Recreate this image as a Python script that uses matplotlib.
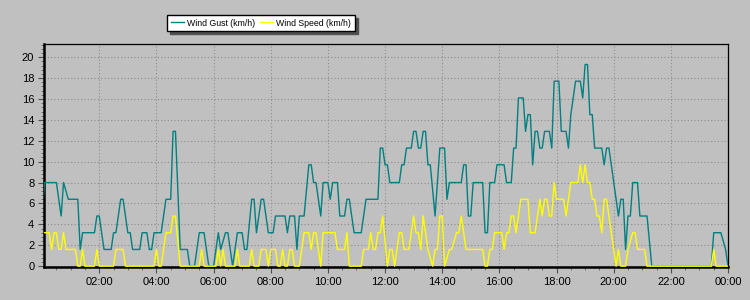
import matplotlib
matplotlib.use("Agg")
import matplotlib.pyplot as plt
from matplotlib import font_manager
from matplotlib.ticker import MultipleLocator, FixedLocator
from matplotlib.lines import Line2D

# ---- data (time in minutes since 00:00, values in km/h) ----
gust_time = [0, 5, 30, 40, 45, 55, 75, 80, 85, 110, 115, 120, 130, 145, 150, 155,
             165, 170, 180, 185, 190, 205, 210, 220, 225, 230, 235, 250, 260, 270,
             275, 280, 290, 305, 310, 320, 330, 340, 350, 360, 370, 375, 385, 390,
             400, 410, 420, 425, 430, 440, 445, 450, 460, 465, 475, 485, 490, 510,
             515, 520, 530, 535, 540, 550, 560, 565, 570, 575, 585, 590, 600, 605,
             610, 620, 625, 635, 640, 645, 655, 670, 680, 705, 710, 715, 720, 725,
             730, 750, 755, 760, 765, 775, 780, 785, 790, 795, 800, 805, 810, 815,
             825, 835, 845, 850, 855, 880, 885, 890, 895, 900, 905, 925, 930, 935,
             940, 950, 955, 970, 975, 985, 990, 995, 1000, 1010, 1015, 1020, 1025,
             1030, 1035, 1040, 1045, 1050, 1055, 1065, 1070, 1075, 1085, 1090, 1100,
             1105, 1110, 1120, 1130, 1135, 1140, 1145, 1150, 1155, 1160, 1175, 1180,
             1185, 1190, 1195, 1210, 1215, 1220, 1225, 1230, 1235, 1240, 1250, 1255,
             1270, 1280, 1405, 1410, 1425, 1435, 1440]
gust_kmh = [4.8, 8.0, 8.0, 4.8, 8.0, 6.4, 6.4, 1.6, 3.2, 3.2, 4.8, 4.8, 1.6, 1.6, 3.2, 3.2,
            6.4, 6.4, 3.2, 3.2, 1.6, 1.6, 3.2, 3.2, 1.6, 1.6, 3.2, 3.2, 6.4, 6.4,
            12.9, 12.9, 1.6, 1.6, 0, 0, 3.2, 3.2, 0, 0, 3.2, 1.6, 3.2, 3.2,
            0, 3.2, 3.2, 1.6, 1.6, 6.4, 6.4, 3.2, 6.4, 6.4, 3.2, 3.2, 4.8, 4.8,
            3.2, 4.8, 4.8, 1.6, 4.8, 4.8, 9.7, 9.7, 8.0, 8.0, 4.8, 8.0, 8.0, 6.4,
            8.0, 8.0, 4.8, 4.8, 6.4, 6.4, 3.2, 3.2, 6.4, 6.4, 11.3, 11.3, 9.7, 9.7,
            8.0, 8.0, 9.7, 9.7, 11.3, 11.3, 12.9, 12.9, 11.3, 11.3, 12.9, 12.9, 9.7, 9.7,
            4.8, 11.3, 11.3, 6.4, 8.0, 8.0, 9.7, 9.7, 4.8, 4.8, 8.0, 8.0, 3.2, 3.2,
            8.0, 8.0, 9.7, 9.7, 8.0, 8.0, 11.3, 11.3, 16.1, 16.1, 12.9, 14.5, 14.5,
            9.7, 12.9, 12.9, 11.3, 11.3, 12.9, 12.9, 11.3, 17.7, 17.7, 12.9, 12.9,
            11.3, 14.5, 17.7, 17.7, 16.1, 19.3, 19.3, 14.5, 14.5, 11.3, 11.3, 9.7,
            11.3, 11.3, 9.7, 4.8, 6.4, 6.4, 1.6, 4.8, 4.8, 8.0, 8.0, 4.8,
            4.8, 0, 0, 3.2, 3.2, 1.6, 0]

speed_time = [0, 15, 20, 25, 30, 35, 40, 45, 50, 70, 75, 80, 85, 90, 110, 115, 120,
              150, 155, 170, 175, 235, 240, 245, 250, 260, 270, 275, 280, 290, 330,
              335, 340, 365, 370, 375, 380, 385, 405, 410, 415, 435, 440, 445, 455,
              460, 470, 475, 480, 490, 495, 500, 505, 510, 515, 520, 525, 530, 540,
              550, 560, 565, 570, 575, 585, 590, 615, 620, 635, 640, 645, 670, 675,
              685, 690, 695, 700, 705, 710, 715, 725, 730, 735, 740, 745, 750, 755,
              760, 770, 780, 785, 790, 795, 800, 805, 810, 820, 825, 830, 835, 840,
              845, 855, 860, 870, 875, 880, 885, 890, 925, 930, 935, 940, 945, 950,
              965, 970, 975, 980, 985, 990, 995, 1005, 1020, 1025, 1035, 1045, 1050,
              1055, 1060, 1065, 1070, 1075, 1080, 1095, 1100, 1105, 1110, 1125, 1130,
              1135, 1140, 1145, 1150, 1155, 1160, 1165, 1170, 1175, 1180, 1185, 1190,
              1195, 1200, 1205, 1210, 1215, 1225, 1230, 1240, 1245, 1250, 1265, 1270,
              1405, 1410, 1415, 1440]
speed_kmh = [3.2, 3.2, 1.6, 3.2, 3.2, 1.6, 1.6, 3.2, 1.6, 1.6, 0, 0, 1.6, 0, 0, 1.6, 0,
             0, 1.6, 1.6, 0, 0, 1.6, 0, 0, 3.2, 3.2, 4.8, 4.8, 0, 0,
             1.6, 0, 0, 1.6, 0, 1.6, 0, 0, 1.6, 0, 0, 1.6, 0, 0,
             1.6, 1.6, 0, 1.6, 1.6, 0, 0, 1.6, 0, 0, 1.6, 1.6, 0, 0,
             3.2, 3.2, 1.6, 3.2, 3.2, 0, 3.2, 3.2, 1.6, 1.6, 3.2, 0, 0, 1.6,
             1.6, 3.2, 1.6, 1.6, 3.2, 3.2, 4.8, 0, 1.6, 1.6, 0, 1.6, 3.2, 3.2,
             1.6, 1.6, 4.8, 3.2, 3.2, 1.6, 4.8, 3.2, 1.6, 0, 1.6, 1.6, 4.8, 4.8,
             0, 1.6, 1.6, 3.2, 3.2, 4.8, 3.2, 1.6, 1.6, 0, 0, 1.6, 1.6, 3.2,
             3.2, 1.6, 3.2, 3.2, 4.8, 4.8, 3.2, 6.4, 6.4, 3.2, 3.2, 6.4, 4.8,
             6.4, 6.4, 4.8, 4.8, 8.0, 6.4, 6.4, 4.8, 6.4, 8.0, 8.0, 9.7,
             8.0, 9.7, 8.0, 8.0, 6.4, 6.4, 4.8, 4.8, 3.2, 6.4, 6.4, 4.8,
             3.2, 1.6, 0, 1.6, 0, 0, 1.6, 3.2, 3.2, 1.6, 1.6, 0,
             0, 1.6, 0, 0]

x_tick_hours = [2, 4, 6, 8, 10, 12, 14, 16, 18, 20, 22, 24]
x_tick_labels = ["02:00", "04:00", "06:00", "08:00", "10:00", "12:00", "14:00",
                 "16:00", "18:00", "20:00", "22:00", "00:00"]
series_names = ["Wind Gust (km/h)", "Wind Speed (km/h)"]

BG = "#c0c0c0"
GUST_C = "#008080"
SPEED_C = "#ffff00"
FONT = ["Liberation Sans", "DejaVu Sans"]

installed = {f.name for f in font_manager.fontManager.ttflist}
if "Liberation Sans Narrow" in installed:
    LEG_FONT, LEG_SIZE = ["Liberation Sans Narrow", "Liberation Sans"], 7.4
else:
    LEG_FONT, LEG_SIZE = FONT, 6.3

fig = plt.figure(figsize=(7.5, 3.0), dpi=100, facecolor=BG)
ax = fig.add_axes([44 / 750, 33 / 300, 684 / 750, 223 / 300])
ax.set_facecolor(BG)

gx = [t / 60 for t in gust_time]
sx = [t / 60 for t in speed_time]
ax.plot(gx, gust_kmh, color=GUST_C, lw=1.0, zorder=4)
ax.plot(sx, speed_kmh, color=SPEED_C, lw=1.0, zorder=5)

ax.set_xlim(4 / 60, 24)
ax.set_ylim(-0.08, 21.26)

ax.xaxis.set_major_locator(FixedLocator(x_tick_hours))
ax.set_xticklabels(x_tick_labels)
ax.xaxis.set_minor_locator(MultipleLocator(0.5))
ax.set_yticks(range(0, 21, 2))
ax.yaxis.set_minor_locator(MultipleLocator(0.4))

ax.grid(True, which="major", color="#8c8c8c", linestyle=(0, (1, 2)), lw=0.8)
ax.set_axisbelow(True)

for side in ["left", "bottom"]:
    ax.spines[side].set_linewidth(1.8)
    ax.spines[side].set_color("black")
for side in ["top", "right"]:
    ax.spines[side].set_linewidth(0.9)
    ax.spines[side].set_color("black")

ax.tick_params(axis="both", which="major", length=4, width=0.8, color="#505050",
               labelsize=8, labelcolor="black", pad=3)
ax.tick_params(axis="both", which="minor", length=2, width=0.6, color="#606060")
for lab in ax.get_xticklabels() + ax.get_yticklabels():
    lab.set_family(FONT)

handles = [Line2D([], [], color=GUST_C, lw=1.0), Line2D([], [], color=SPEED_C, lw=1.0)]
leg = fig.legend(handles, series_names, loc="center", bbox_to_anchor=(261 / 750, 1 - 23 / 300),
                 ncol=2, frameon=True, fancybox=False, shadow={"color": "#505050", "alpha": 1},
                 prop={"family": LEG_FONT, "size": LEG_SIZE}, handlelength=1.5,
                 handletextpad=0.35, columnspacing=0.6, borderpad=0.4, borderaxespad=0)
leg.get_frame().set_edgecolor("black")
leg.get_frame().set_linewidth(1.0)
leg.get_frame().set_facecolor("white")

fig.savefig("out.png", dpi=100, facecolor=BG)
